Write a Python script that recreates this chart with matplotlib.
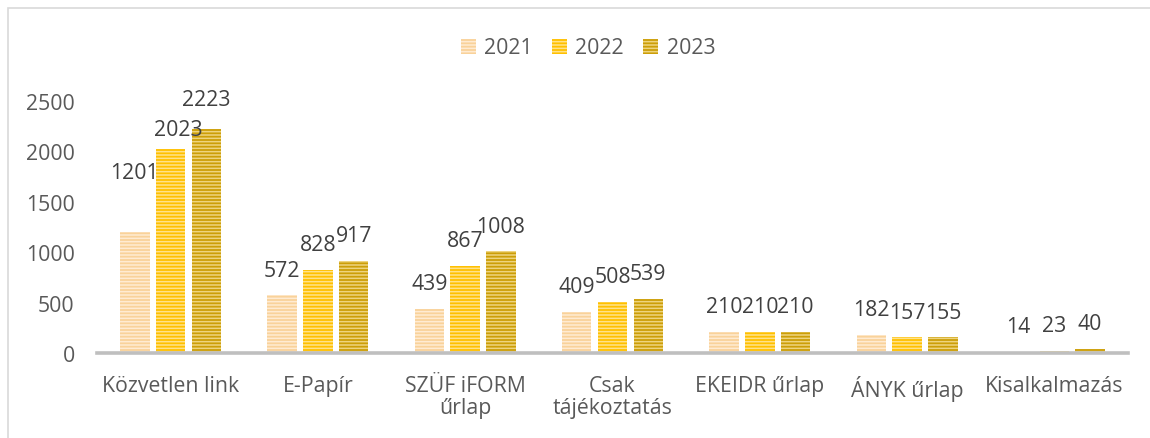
import numpy as np
import matplotlib
matplotlib.use('Agg')
import matplotlib.pyplot as plt
from matplotlib.patches import Rectangle

# data
categories = ['Közvetlen link', 'E-Papír', 'SZÜF iFORM\nűrlap', 'Csak\ntájékoztatás',
              'EKEIDR űrlap', 'ÁNYK űrlap', 'Kisalkalmazás']
years = ['2021', '2022', '2023']
v2021 = [1201, 572, 439, 409, 210, 182, 14]
v2022 = [2023, 828, 867, 508, 210, 157, 23]
v2023 = [2223, 917, 1008, 539, 210, 155, 40]
series = [v2021, v2022, v2023]

face = ['#F9D29A', '#FFC000', '#CC9E08']
stripe = ['#FFEBD2', '#FFE28A', '#EED47E']

# label offsets in pixels (dx, dy) where the labels were moved by hand
label_shift = {(0, 0): (0, 59), (1, 0): (8, 20), (2, 0): (0, 29)}

plt.rcParams['font.family'] = ['Open Sans', 'DejaVu Sans']
plt.rcParams['hatch.linewidth'] = 1.1

fs = 15.3
fig = plt.figure(figsize=(11.5, 4.39), dpi=100)
ax = fig.add_axes([97/1150, 1-354/439, (1128-97)/1150, (354-102)/439])

x = np.arange(len(categories))
w = 0.2
step = 0.243
handles = []
for i, vals in enumerate(series):
    bars = ax.bar(x + (i-1)*step, vals, width=w, color=face[i], edgecolor=stripe[i],
                  linewidth=0, hatch='-----', label=years[i])
    handles.append(bars)
    for j, b in enumerate(bars):
        dx, dy = label_shift.get((i, j), (0, 25))
        ax.annotate(str(vals[j]), (b.get_x() + b.get_width()/2, b.get_height()),
                    xytext=(dx*0.72, dy*0.72), textcoords='offset points',
                    ha='center', va='center', fontsize=fs, color='#404040',
                    annotation_clip=False)

ax.set_ylim(0, 2500)
ax.set_xlim(-0.5, len(categories)-0.5)
ax.set_yticks([0, 500, 1000, 1500, 2000, 2500])
ax.set_xticks(x)
ax.set_xticklabels(categories, linespacing=1.05)
ax.tick_params(axis='both', length=0, labelsize=fs, labelcolor='#595959')
ax.tick_params(axis='y', pad=16)
ax.tick_params(axis='x', pad=16)
for s in ['top', 'right', 'left']:
    ax.spines[s].set_visible(False)
ax.spines['bottom'].set_color('#BFBFBF')
ax.spines['bottom'].set_linewidth(2.6)

fig.legend(handles=handles, loc='center', bbox_to_anchor=(588/1150, 1-49/439), ncol=3,
           frameon=False, fontsize=fs, labelcolor='#595959', handlelength=0.7,
           handleheight=0.7, handletextpad=0.4, columnspacing=0.9)

fig.patches.append(Rectangle((8/1150, -0.1), 1.1, 1.1 - 9/439, transform=fig.transFigure,
                             fill=False, edgecolor='#D9D9D9', linewidth=1.2))

fig.savefig('out.png', dpi=100)
